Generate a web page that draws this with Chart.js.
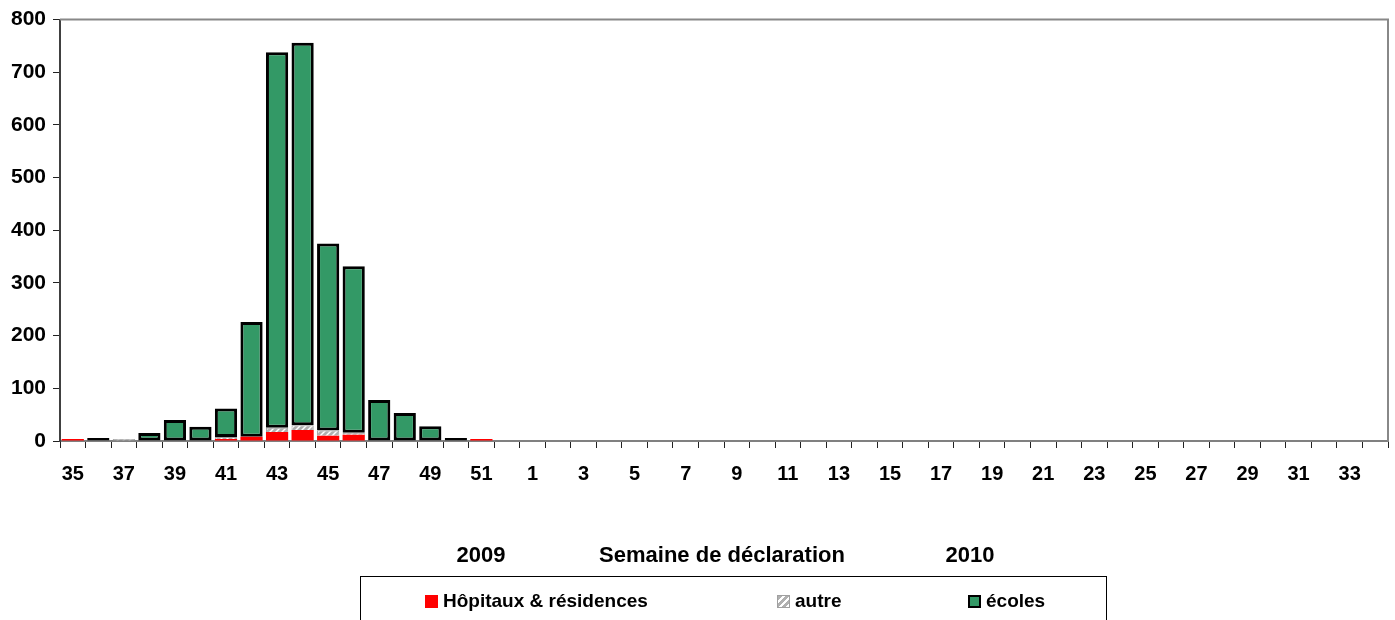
<!DOCTYPE html>
<html>
<head>
<meta charset="utf-8">
<script src="https://cdn.jsdelivr.net/npm/chart.js@4"></script>
<style>
  html, body { margin:0; padding:0; background:#fff; }
  #wrap { position:relative; width:1395px; height:620px; overflow:hidden; font-family:"Liberation Sans", Arial, sans-serif; font-weight:bold; color:#000; }
  #c { position:absolute; left:0; top:0; }
  .t { position:absolute; font-size:22px; line-height:22px; white-space:nowrap; transform:translateX(-50%); }
  #legend { position:absolute; left:360px; top:576px; width:747px; height:60px; border:1px solid #000; box-sizing:border-box; }
  .li { position:absolute; top:14px; font-size:19px; line-height:20px; white-space:nowrap; }
  .sw { display:inline-block; width:13px; height:13px; vertical-align:-1px; margin-right:5px; box-sizing:border-box; }
</style>
</head>
<body>
<div id="wrap">
  <canvas id="c" width="1395" height="620"></canvas>
  <div class="t" style="left:481px; top:544px;">2009</div>
  <div class="t" style="left:722px; top:544px;">Semaine de déclaration</div>
  <div class="t" style="left:970px; top:544px;">2010</div>
  <div id="legend">
    <div class="li" style="left:64px;"><span class="sw" style="background:#ff0000;"></span>Hôpitaux &amp; résidences</div>
    <div class="li" style="left:416px;"><span class="sw" style="background:repeating-linear-gradient(135deg,#b0b0b0 0 3px,#ffffff 3px 5px);border:1px solid #a0a0a0;"></span>autre</div>
    <div class="li" style="left:607px;"><span class="sw" style="background:#339966;border:2px solid #000;"></span>écoles</div>
  </div>
</div>
<script>
// Categories: week numbers (2009 weeks 35-52, then 2010 weeks 1-34)
const weeks = ['35','36','37','38','39','40','41','42','43','44','45','46','47','48','49','50','51','52',
  '1','2','3','4','5','6','7','8','9','10','11','12','13','14','15','16','17','18','19','20',
  '21','22','23','24','25','26','27','28','29','30','31','32','33','34'];

// Series values (by week, same order as weeks)
const hopitaux = [1,0,0,0,0,0,1,8,17,21,10,12,0,0,0,0,1,0,
  0,0,0,0,0,0,0,0,0,0,0,0,0,0,0,0,0,0,0,0,0,0,0,0,0,0,0,0,0,0,0,0,0,0];
const autre = [0,0,2,0,0,0,2,0,8,9,10,2,0,0,0,0,0,0,
  0,0,0,0,0,0,0,0,0,0,0,0,0,0,0,0,0,0,0,0,0,0,0,0,0,0,0,0,0,0,0,0,0,0];
const ecoles = [0,2,0,15,40,27,54,218,713,726,355,316,78,53,28,3,0,0,
  0,0,0,0,0,0,0,0,0,0,0,0,0,0,0,0,0,0,0,0,0,0,0,0,0,0,0,0,0,0,0,0,0,0];

const yTicks = [0,100,200,300,400,500,600,700,800];

function hatch() {
  const p = document.createElement('canvas');
  p.width = 6; p.height = 6;
  const g = p.getContext('2d');
  g.fillStyle = '#b0b0b0'; g.fillRect(0,0,6,6);
  g.strokeStyle = '#ffffff'; g.lineWidth = 1.5;
  g.beginPath(); g.moveTo(0,6); g.lineTo(6,0); g.stroke();
  g.beginPath(); g.moveTo(-3,3); g.lineTo(3,-3); g.stroke();
  g.beginPath(); g.moveTo(3,9); g.lineTo(9,3); g.stroke();
  return document.getElementById('c').getContext('2d').createPattern(p,'repeat');
}

const z = a => a.map(v => v === 0 ? null : v);

const frame = {
  id: 'frame',
  afterDraw(chart) {
    const {ctx, chartArea:a} = chart;
    ctx.save();
    ctx.strokeStyle = '#888888';
    ctx.lineWidth = 2;
    ctx.beginPath();
    ctx.moveTo(a.left, a.top);
    ctx.lineTo(a.right, a.top);
    ctx.lineTo(a.right, a.bottom);
    ctx.stroke();
    ctx.restore();
  }
};

const xFont = { family: '"Liberation Sans", Arial, sans-serif', weight: 'bold', size: 20 };
const yFont = { family: '"Liberation Sans", Arial, sans-serif', weight: 'bold', size: 21 };

new Chart(document.getElementById('c'), {
  type: 'bar',
  data: {
    labels: weeks,
    datasets: [
      { label: 'Hôpitaux & résidences', data: z(hopitaux), backgroundColor: '#ff0000', borderWidth: 0, minBarLength: 2 },
      { label: 'autre', data: z(autre), backgroundColor: hatch(), borderColor: '#a0a0a0', borderWidth: 1, minBarLength: 2 },
      { label: 'écoles', data: z(ecoles), backgroundColor: '#339966', borderColor: '#000000', borderWidth: 3, borderSkipped: false, minBarLength: 3 }
    ]
  },
  options: {
    responsive: false,
    animation: false,
    layout: { autoPadding: false, padding: { top: 17, right: 7, left: 0, bottom: 0 } },
    datasets: { bar: { barPercentage: 0.87, categoryPercentage: 1.0 } },
    plugins: { legend: { display: false }, tooltip: { enabled: false } },
    scales: {
      x: {
        stacked: true,
        grid: { display: true, drawOnChartArea: false, drawTicks: true, tickLength: 7, color: '#222222', offset: true },
        border: { display: true, color: '#808080', width: 2 },
        ticks: {
          autoSkip: false, maxRotation: 0, minRotation: 0, padding: 14,
          color: '#000', font: xFont,
          callback: (v, i) => (i % 2 === 0 ? weeks[i] : '')
        },
        afterFit: s => { s.height = 179; }
      },
      y: {
        stacked: true,
        min: 0, max: 800,
        afterBuildTicks: s => { s.ticks = yTicks.map(v => ({ value: v })); },
        grid: { display: true, drawOnChartArea: false, drawTicks: true, tickLength: 7, color: '#222222' },
        border: { display: true, color: '#404040', width: 2 },
        ticks: { padding: 7, color: '#000', font: yFont },
        afterFit: s => { s.width = 60; }
      }
    }
  },
  plugins: [frame]
});
</script>
</body>
</html>
